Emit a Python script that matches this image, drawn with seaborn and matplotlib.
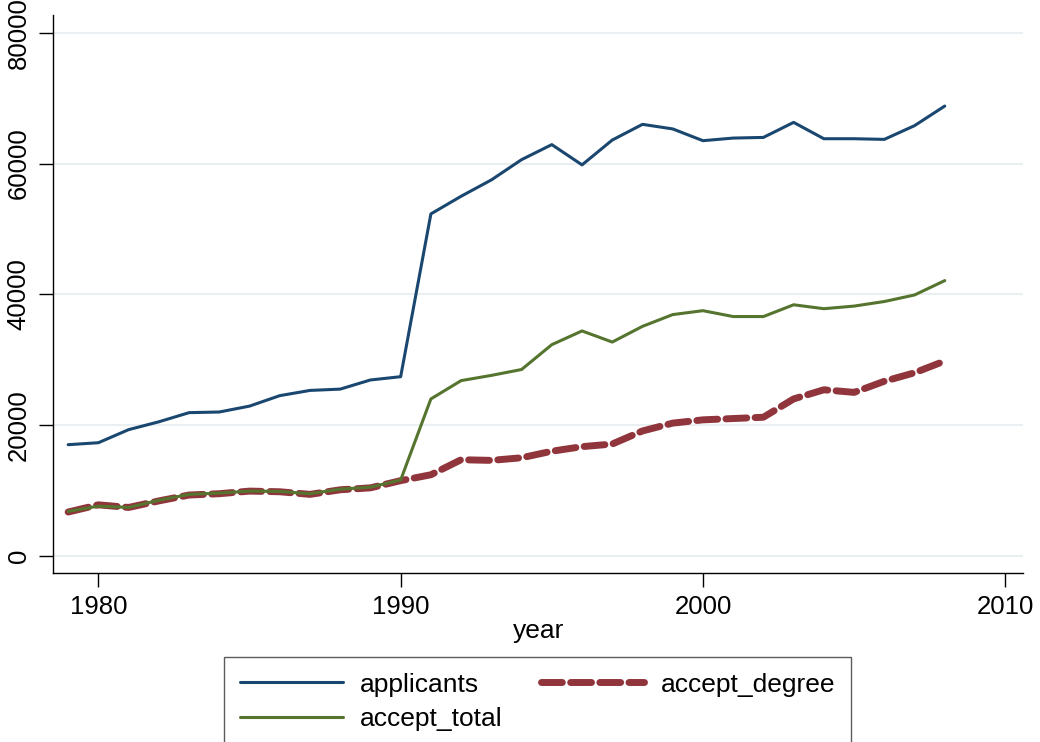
import pandas as pd
import matplotlib
matplotlib.use("Agg")
import matplotlib.pyplot as plt
import seaborn as sns

years = list(range(1979, 2009))

applicants = [17000, 17300, 19300, 20500, 21900, 22000, 22900, 24500, 25300, 25500,
              26900, 27400, 52300, 55000, 57500, 60600, 62900, 59800, 63600, 66000,
              65300, 63500, 63900, 64000, 66300, 63800, 63800, 63700, 65800, 68800]

accept_total = [6800, 7600, 7400, 8500, 9400, 9600, 9900, 9850, 9500, 10200,
                10500, 11600, 24000, 26800, 27600, 28500, 32300, 34400, 32700, 35100,
                36900, 37500, 36600, 36600, 38400, 37800, 38200, 38900, 39900, 42100]

accept_degree = [6700, 7800, 7400, 8400, 9300, 9500, 9900, 9800, 9400, 10100,
                 10400, 11500, 12400, 14700, 14600, 15000, 16000, 16700, 17100, 19100,
                 20300, 20800, 21000, 21200, 24000, 25400, 25000, 26700, 28000, 29800]

df = pd.DataFrame({"year": years, "applicants": applicants,
                   "accept_total": accept_total, "accept_degree": accept_degree})

sns.set_style("white")
plt.rcParams["font.family"] = ["Liberation Sans", "DejaVu Sans"]
plt.rcParams["text.color"] = "black"
plt.rcParams["xtick.color"] = "black"
plt.rcParams["ytick.color"] = "black"
plt.rcParams["axes.labelcolor"] = "black"

fig = plt.figure(figsize=(10.4, 7.42), dpi=100)
ax = fig.add_axes([0.051, 0.228, 0.933, 0.752])

navy = "#1a476f"
maroon = "#90353b"
green = "#55752f"

sns.lineplot(data=df, x="year", y="applicants", ax=ax, color=navy, lw=2.2,
             label="applicants")
sns.lineplot(data=df, x="year", y="accept_degree", ax=ax, color=maroon, lw=5,
             label="accept_degree")
ax.lines[-1].set_dashes([3, 1.2])
ax.lines[-1].set_dash_capstyle("round")
sns.lineplot(data=df, x="year", y="accept_total", ax=ax, color=green, lw=2.2,
             label="accept_total")

ax.set_xlim(1978.5, 2010.6)
ax.set_ylim(-2600, 82750)
ax.set_xticks([1980, 1990, 2000, 2010])
ax.set_yticks([0, 20000, 40000, 60000, 80000])
ax.set_yticklabels(["0", "20000", "40000", "60000", "80000"], rotation=90, va="center")
ax.grid(axis="y", color="#eaf0f2", lw=1.5)
ax.grid(axis="x", visible=False)

for s in ["top", "right"]:
    ax.spines[s].set_visible(False)
for s in ["left", "bottom"]:
    ax.spines[s].set_color("black")
    ax.spines[s].set_linewidth(1.0)

ax.tick_params(axis="both", direction="out", length=10, width=1, color="black",
               labelsize=18.5, pad=6, bottom=True, left=True)
ax.set_xlabel("year", fontsize=19, labelpad=0)
ax.set_ylabel("")

h, l = ax.get_legend_handles_labels()
order = [0, 2, 1]
ax.legend([h[i] for i in order], [l[i] for i in order], ncol=2,
          loc="upper center", bbox_to_anchor=(0.4995, -0.1505), borderaxespad=0,
          frameon=True, fancybox=False, edgecolor="#333333", fontsize=19,
          handlelength=3.9, columnspacing=1.45, labelspacing=0.39,
          borderpad=0.6, handletextpad=0.65)
ax.get_legend().get_frame().set_linewidth(1.0)

fig.savefig("out.png", dpi=100)
